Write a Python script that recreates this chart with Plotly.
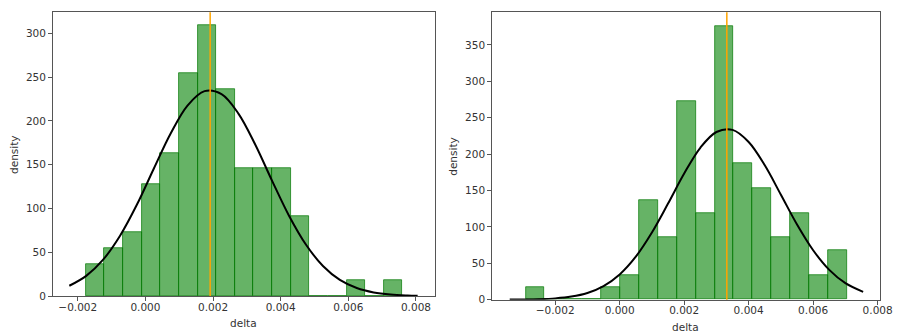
import numpy as np
import plotly.graph_objects as go

W, H = 901, 333

# histogram bins (density)
left_bin_start = -0.001758
left_bin_width = 0.0005505
left_density = [36.3, 54.5, 72.7, 127.2, 163.5, 254.4, 308.9, 236.2, 145.4,
                145.4, 145.4, 90.8, 0, 0, 18.2, 0, 18.2]
left_mean = 0.001915

right_bin_start = -0.002913
right_bin_width = 0.000586
right_density = [17.1, 0, 0, 0, 17.1, 34.1, 136.5, 85.3, 273.0, 119.4,
                 375.3, 187.7, 153.5, 85.3, 119.4, 34.1, 68.2]
right_mean = 0.003323

# fitted normal curves, sampled by eye
left_curve_x = [-0.00225, -0.00175, -0.00125, -0.00075, -0.00025, 0.00025, 0.00075,
                0.00125, 0.00175, 0.00225, 0.00275, 0.00325, 0.00375, 0.00425,
                0.00475, 0.00525, 0.00575, 0.00625, 0.00675, 0.00725, 0.00775, 0.00805]
left_curve_y = [11.7, 23.0, 41.5, 68.8, 104.4, 145.6, 185.8, 217.7, 233.9, 230.5,
                208.3, 172.7, 131.2, 91.4, 58.5, 34.3, 18.4, 9.1, 4.1, 1.7, 0.65, 0.35]

right_curve_x = [-0.00341, -0.003, -0.0025, -0.002, -0.0015, -0.001, -0.0005, 0.0,
                 0.0005, 0.001, 0.0015, 0.002, 0.0025, 0.003, 0.0035, 0.004, 0.0045,
                 0.005, 0.0055, 0.006, 0.0065, 0.007, 0.00755]
right_curve_y = [0.09, 0.23, 0.66, 1.75, 4.2, 9.2, 18.7, 34.7, 59.1, 92.3, 132.0,
                 173.3, 208.7, 230.4, 233.3, 216.7, 184.6, 144.2, 103.3, 67.9, 40.9,
                 22.6, 10.7]

x_ticks = [-0.002, 0.0, 0.002, 0.004, 0.006, 0.008]
left_y_ticks = [0, 50, 100, 150, 200, 250, 300]
right_y_ticks = [0, 50, 100, 150, 200, 250, 300, 350]

BAR = "rgba(0,128,0,0.6)"
EDGE = "rgba(0,120,0,0.7)"
FONT = dict(family="DejaVu Sans", size=10.5, color="#333")


def px_x(p):
    return p / W


def px_y(p):
    return 1 - p / H


def centers(start, width, n):
    return start + width * (np.arange(n) + 0.5)


fig = go.Figure()

panels = [
    ("x", "y", left_bin_start, left_bin_width, left_density, left_mean,
     left_curve_x, left_curve_y),
    ("x2", "y2", right_bin_start, right_bin_width, right_density, right_mean,
     right_curve_x, right_curve_y),
]
for xa, ya, start, width, dens, mean, cx, cy in panels:
    fig.add_trace(go.Bar(
        x=centers(start, width, len(dens)), y=dens, width=width,
        marker=dict(color=BAR, line=dict(color=EDGE, width=1)),
        xaxis=xa, yaxis=ya, showlegend=False,
    ))
    fig.add_trace(go.Scatter(
        x=cx, y=cy, mode="lines", line=dict(color="black", width=2, shape="spline"),
        xaxis=xa, yaxis=ya, showlegend=False,
    ))
    fig.add_shape(type="line", x0=mean, x1=mean, y0=0, y1=1,
                  xref=xa, yref=ya + " domain",
                  line=dict(color="orange", width=1.5))

axis_common = dict(
    showline=True, linecolor="#555", linewidth=1, mirror=True,
    ticks="outside", ticklen=4, tickcolor="#555", tickfont=FONT,
    showgrid=False, zeroline=False,
)

fig.update_layout(
    width=W, height=H,
    margin=dict(l=0, r=0, t=0, b=0),
    plot_bgcolor="white", paper_bgcolor="white",
    bargap=0,
    xaxis=dict(axis_common, domain=[px_x(45.7), px_x(433)], anchor="y",
               range=[-0.00273, 0.00857], tickvals=x_ticks, tickformat=".3f",
               ticklabelstandoff=-3),
    yaxis=dict(axis_common, domain=[px_y(293.3), px_y(4.3)], anchor="x",
               range=[0, 324], tickvals=left_y_ticks),
    xaxis2=dict(axis_common, domain=[px_x(490.7), px_x(884)], anchor="y2",
                range=[-0.003954, 0.00808], tickvals=x_ticks, tickformat=".3f",
                ticklabelstandoff=-3),
    yaxis2=dict(axis_common, domain=[px_y(297), px_y(4.3)], anchor="x2",
                range=[0, 395], tickvals=right_y_ticks),
    annotations=[
        dict(text="delta", x=px_x(239), y=px_y(320.7), xref="paper", yref="paper",
             xanchor="center", yanchor="middle", showarrow=False, font=FONT),
        dict(text="density", x=px_x(6.7), y=px_y(149), xref="paper", yref="paper",
             xanchor="center", yanchor="middle", showarrow=False, font=FONT,
             textangle=-90),
        dict(text="delta", x=px_x(687), y=px_y(325), xref="paper", yref="paper",
             xanchor="center", yanchor="middle", showarrow=False, font=FONT),
        dict(text="density", x=px_x(451.5), y=px_y(151), xref="paper", yref="paper",
             xanchor="center", yanchor="middle", showarrow=False, font=FONT,
             textangle=-90),
    ],
)

fig.write_html("out.html")
